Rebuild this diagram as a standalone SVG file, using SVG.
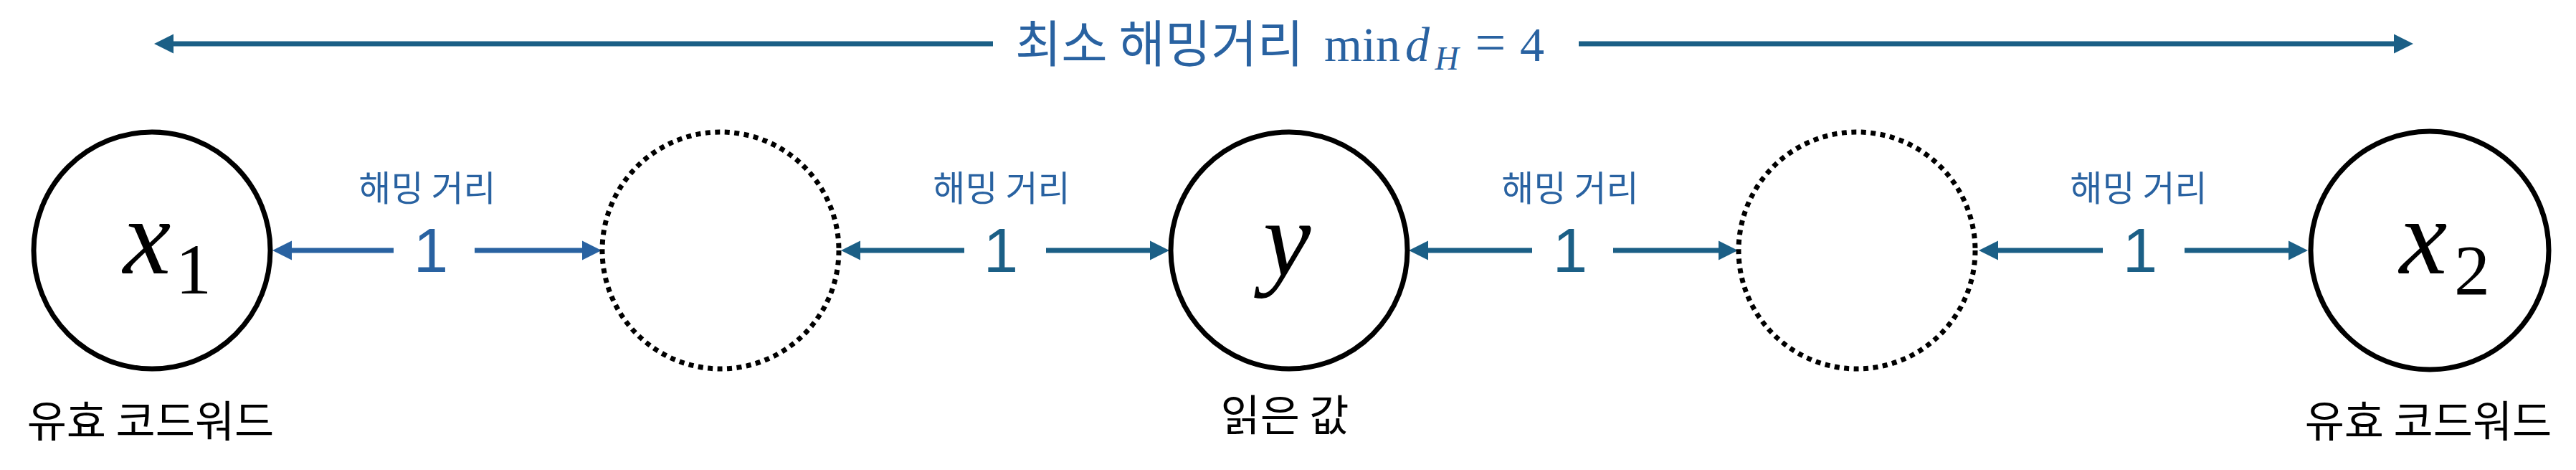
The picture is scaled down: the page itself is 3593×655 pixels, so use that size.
<svg xmlns="http://www.w3.org/2000/svg" width="3593" height="655" viewBox="0 0 3593 655">
<style>
.kr{font-family:"Noto Sans CJK KR","Noto Sans",sans-serif;}
.lbl{font-size:49px;fill:#2962A1;text-anchor:middle;}
.cap{font-size:60px;fill:#000;text-anchor:middle;}
.num{font-family:"Liberation Sans",Arial,sans-serif;font-size:87px;text-anchor:middle;}
.math{font-family:"Liberation Serif","Times New Roman",serif;}
.it{font-style:italic;}
.solid{fill:#fff;stroke:#000;stroke-width:7;}
.dot{fill:none;stroke:#000;stroke-width:7;stroke-dasharray:7 6.5;}
.lb{stroke:#2962A1;stroke-width:7;fill:none;}
.lt{stroke:#1B5F86;stroke-width:7;fill:none;}
</style>
<defs>
<marker id="ahB" markerUnits="userSpaceOnUse" markerWidth="28" markerHeight="28" refX="1" refY="13.5" orient="auto" viewBox="0 0 28 27">
<path d="M0,0 L27,13.5 L0,27 Z" fill="#2962A1"/>
</marker>
<marker id="ahT" markerUnits="userSpaceOnUse" markerWidth="28" markerHeight="28" refX="1" refY="13.5" orient="auto" viewBox="0 0 28 27">
<path d="M0,0 L27,13.5 L0,27 Z" fill="#1B5F86"/>
</marker>
</defs>
<rect width="3593" height="655" fill="#fff"/>

<g id="connectors">
<line class="lt" x1="1385" y1="61" x2="241" y2="61" marker-end="url(#ahT)"/>
<line class="lt" x1="2202" y1="61" x2="3340" y2="61" marker-end="url(#ahT)"/>
<line class="lb" x1="549" y1="349" x2="406" y2="349" marker-end="url(#ahB)"/>
<line class="lb" x1="662" y1="349" x2="813" y2="349" marker-end="url(#ahB)"/>
<line class="lt" x1="1345" y1="349" x2="1199" y2="349" marker-end="url(#ahT)"/>
<line class="lt" x1="1459" y1="349" x2="1605" y2="349" marker-end="url(#ahT)"/>
<line class="lt" x1="2137" y1="349" x2="1991" y2="349" marker-end="url(#ahT)"/>
<line class="lt" x1="2250" y1="349" x2="2398" y2="349" marker-end="url(#ahT)"/>
<line class="lt" x1="2933" y1="349" x2="2786" y2="349" marker-end="url(#ahT)"/>
<line class="lt" x1="3047" y1="349" x2="3193" y2="349" marker-end="url(#ahT)"/>
<text class="num" x="601" y="379" fill="#2962A1">1</text>
<text class="num" x="1396" y="379" fill="#1B5F86">1</text>
<text class="num" x="2190" y="379" fill="#1B5F86">1</text>
<text class="num" x="2985" y="379" fill="#1B5F86">1</text>
<text class="kr lbl" x="596" y="280">해밍 거리</text>
<text class="kr lbl" x="1397" y="280">해밍 거리</text>
<text class="kr lbl" x="2190" y="280">해밍 거리</text>
<text class="kr lbl" x="2983" y="280">해밍 거리</text>
</g>

<g id="title">
<text class="kr" x="1617" y="87" font-size="70" fill="#2962A1" text-anchor="middle">최소 해밍거리</text>
<text class="math" x="1900" y="85" font-size="68" fill="#2962A1" text-anchor="middle">min</text>
<text class="math it" x="1977" y="85" font-size="68" fill="#2962A1" text-anchor="middle">d</text>
<text class="math it" x="2018" y="97" font-size="46" fill="#2962A1" text-anchor="middle">H</text>
<text class="math" x="2079" y="85" font-size="76" fill="#2962A1" text-anchor="middle">=</text>
<text class="math" x="2137" y="85" font-size="68" fill="#2962A1" text-anchor="middle">4</text>
</g>

<g id="node-x1">
<circle class="solid" cx="212" cy="349" r="165"/>
<text class="math it" x="205" y="381" font-size="150" text-anchor="middle">x</text>
<text class="math" x="270" y="409" font-size="100" text-anchor="middle">1</text>
<text class="kr cap" x="210" y="609">유효 코드워드</text>
</g>

<g id="node-d1">
<circle class="dot" cx="1005" cy="349" r="165"/>
</g>

<g id="node-y">
<circle class="solid" cx="1798" cy="349" r="165"/>
<text class="math it" x="1795" y="384" font-size="150" text-anchor="middle">y</text>
<text class="kr cap" x="1792" y="601">읽은 값</text>
</g>

<g id="node-d2">
<circle class="dot" cx="2590" cy="349" r="165"/>
</g>

<g id="node-x2">
<circle class="solid" cx="3389" cy="349" r="166"/>
<text class="math it" x="3380" y="381" font-size="150" text-anchor="middle">x</text>
<text class="math" x="3448" y="410" font-size="100" text-anchor="middle">2</text>
<text class="kr cap" x="3387" y="609">유효 코드워드</text>
</g>
</svg>
